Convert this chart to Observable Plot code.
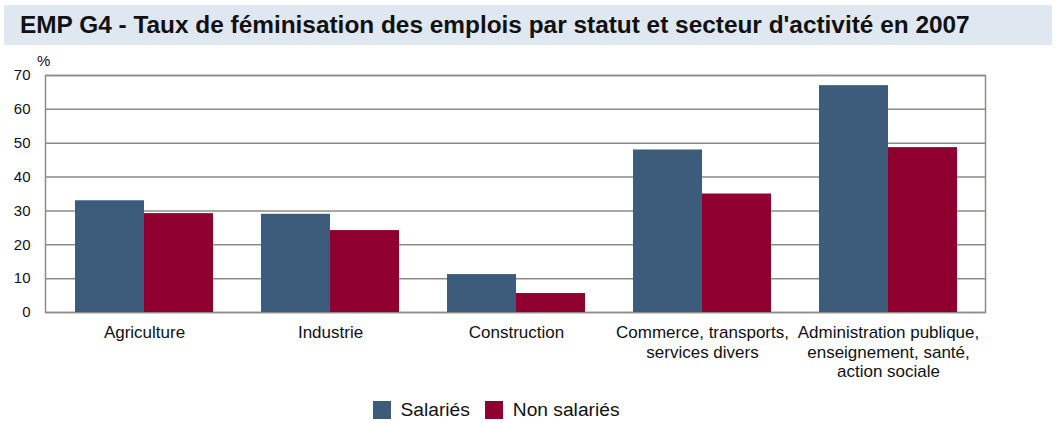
<!DOCTYPE html>
<html><head><meta charset="utf-8">
<script src="https://cdn.jsdelivr.net/npm/d3@7"></script>
<script src="https://cdn.jsdelivr.net/npm/@observablehq/plot@0.6"></script>
<style>
html,body{margin:0;padding:0;background:#fff;}
body{width:1056px;height:423px;position:relative;overflow:hidden;font-family:Arial,"Liberation Sans",sans-serif;}
#title{position:absolute;left:4px;top:5px;width:1048px;height:40px;background:#dfe7f1;}
#title span{position:absolute;left:16px;top:6px;font-weight:bold;font-size:24.4px;color:#111;white-space:nowrap;}
.layer{position:absolute;left:0;top:50px;}
#pct{position:absolute;left:37px;top:52px;font-size:15px;color:#111;}
#legend{position:absolute;left:0;width:992px;top:399px;display:flex;justify-content:center;gap:15px;font-size:19.2px;color:#111;}
#legend .item{display:flex;align-items:center;gap:10px;}
#legend .sw{width:18px;height:18px;display:inline-block;}
</style>
</head><body>
<div id="title"><span>EMP G4 - Taux de féminisation des emplois par statut et secteur d'activité en 2007</span></div>
<div id="grid" class="layer"></div>
<div id="bars" class="layer"></div>
<div id="pct">%</div>
<div id="legend"></div>
<script>
const categories = ["Agriculture", "Industrie", "Construction", "Commerce", "Administration"];
const categoryLabels = ["Agriculture", "Industrie", "Construction",
  "Commerce, transports,\nservices divers",
  "Administration publique,\nenseignement, santé,\naction sociale"];
const series = ["Salariés", "Non salariés"];
const salaries = [33, 29, 11.2, 48, 67];
const nonSalaries = [29.2, 24.2, 5.6, 35, 48.7];
const yTicks = [0, 10, 20, 30, 40, 50, 60, 70];
const colors = ["#3d5b7a", "#8f0030"];

const data = [];
categories.forEach((c, i) => {
  data.push({category: c, series: series[0], value: salaries[i]});
  data.push({category: c, series: series[1], value: nonSalaries[i]});
});
const labelOf = new Map(categories.map((c, i) => [c, categoryLabels[i]]));

const common = {
  width: 1056,
  height: 340,
  marginTop: 25,
  marginBottom: 78,
  style: {fontFamily: "Arial, 'Liberation Sans', sans-serif", fontSize: "16px", color: "#111", background: "transparent"},
  y: {domain: [0, 70], axis: null}
};

// Layer 1: grid, frame, y axis
const gridPlot = Plot.plot({
  ...common,
  marginLeft: 45,
  marginRight: 71,
  marks: [
    Plot.ruleY(yTicks, {stroke: "#8c8c84", strokeWidth: 1.5}),
    Plot.frame({stroke: "#8c8c84", strokeWidth: 1.5}),
    Plot.axisY({ticks: yTicks, tickSize: 0, tickPadding: 15, label: null, fontSize: 15})
  ]
});
document.getElementById("grid").appendChild(gridPlot);

// Layer 2: grouped bars and category labels
const barPlot = Plot.plot({
  ...common,
  marginLeft: 50,
  marginRight: 75,
  fx: {domain: categories, padding: 0, label: null, axis: null},
  x: {domain: series, paddingInner: 0, paddingOuter: 0.33, axis: null},
  color: {domain: series, range: colors},
  marks: [
    Plot.barY(data, {fx: "category", x: "series", y: "value", fill: "series"}),
    Plot.axisFx({anchor: "bottom", tickSize: 0, tickPadding: 12, label: null, fontSize: 17, lineHeight: 1.15, tickFormat: d => labelOf.get(d)})
  ]
});
document.getElementById("bars").appendChild(barPlot);

const legend = document.getElementById("legend");
series.forEach((s, i) => {
  const item = document.createElement("div");
  item.className = "item";
  const sw = document.createElement("span");
  sw.className = "sw";
  sw.style.background = colors[i];
  const t = document.createElement("span");
  t.textContent = s;
  item.appendChild(sw); item.appendChild(t);
  legend.appendChild(item);
});
</script>
</body></html>
